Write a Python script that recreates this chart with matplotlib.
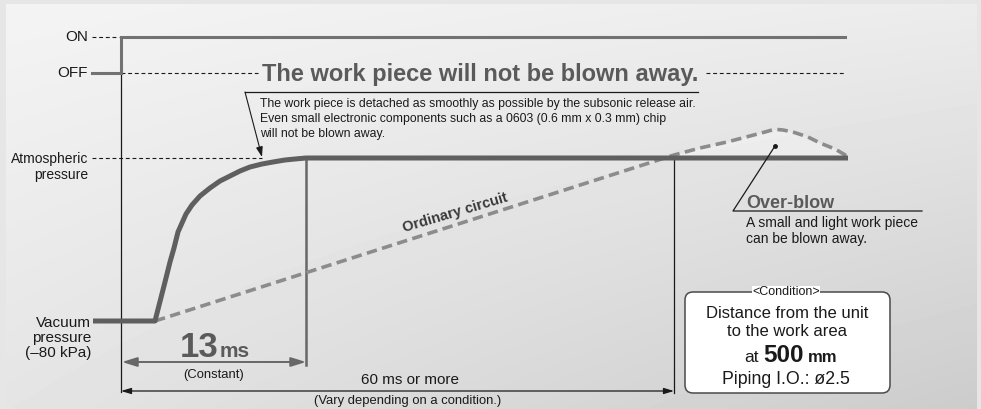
import numpy as np
import matplotlib
matplotlib.use("Agg")
import matplotlib.pyplot as plt
from matplotlib.patches import FancyBboxPatch, Rectangle

plt.rcParams['font.family'] = ['Liberation Sans', 'DejaVu Sans']

# ---- diagram data (schematic units: x = time position, y = level position) ----
levels = {"ON": 37, "OFF": 73, "ATM": 158, "VAC": 321}
t_start = 93
t_switch = 121
t_13ms = 306
t_60ms = 674
t_end = 848

signal_x = [92, 121, 121, 845]
signal_y = [73, 73, 37, 37]

release_x = [93, 155, 165, 170, 174, 178, 186, 192, 200, 210, 220, 230, 240, 250, 262, 273, 285, 295, 306, 848]
release_y = [321, 321, 282, 262, 248, 232, 214, 205, 196, 188, 181, 176, 171, 167, 164, 162, 160, 159, 158, 158]

ordinary_x = [155, 674, 700, 727, 750, 765, 772, 777, 783, 793, 808, 820, 835, 847]
ordinary_y = [321, 155, 148, 142, 136, 132, 130, 129.5, 130, 132, 137, 143, 149, 156]

label_on = "ON"
label_off = "OFF"
label_atm = "Atmospheric\npressure"
label_vac = "Vacuum\npressure\n(\u201380 kPa)"
title_text = "The work piece will not be blown away."
note_text = ("The work piece is detached as smoothly as possible by the subsonic release air.\n"
             "Even small electronic components such as a 0603 (0.6 mm x 0.3 mm) chip\n"
             "will not be blown away.")
ordinary_label = "Ordinary circuit"
overblow_title = "Over-blow"
overblow_text = "A small and light work piece\ncan be blown away."
cond_lines = ["Distance from the unit", "to the work area"]

W, H = 981, 409
fig = plt.figure(figsize=(W / 100, H / 100), dpi=100)
ax = fig.add_axes([0, 0, 1, 1])
ax.set_xlim(0, W)
ax.set_ylim(H, 0)
ax.axis("off")

# ---- background ----
fig.patch.set_facecolor("#e6e6e6")
ax.add_patch(Rectangle((0, 0), W, H, facecolor="#e6e6e6", edgecolor="none", zorder=0))
nx, ny = 200, 100
gx = np.linspace(0, 1, nx)[None, :]
gy = np.linspace(0, 1, ny)[:, None]
tl, tr, bl, br = 0.955, 0.925, 0.895, 0.80
grad = tl * (1 - gx) * (1 - gy) + tr * gx * (1 - gy) + bl * (1 - gx) * gy + br * gx * gy
ax.imshow(grad, cmap="gray", vmin=0, vmax=1, extent=(6, 977, H, 4), aspect="auto",
          interpolation="bilinear", zorder=0.5)
ax.set_xlim(0, W)
ax.set_ylim(H, 0)

dark = "#1a1a1a"
gray_line = "#676767"
title_gray = "#5a5a5a"
thin_dash = (0, (3.5, 2.5))

# ---- guide dashed lines ----
ax.plot([92, 119], [levels["ON"]] * 2, color=dark, lw=0.8, ls=thin_dash, zorder=2)
ax.plot([121, 258], [levels["OFF"]] * 2, color=dark, lw=0.8, ls=thin_dash, zorder=2)
ax.plot([706, 845], [levels["OFF"]] * 2, color=dark, lw=0.8, ls=thin_dash, zorder=2)
ax.plot([92, 262], [levels["ATM"]] * 2, color=dark, lw=0.8, ls=thin_dash, zorder=2)

# vertical reference lines
ax.plot([t_switch, t_switch], [levels["ON"], 392], color=dark, lw=0.9, zorder=2)
ax.plot([t_60ms, t_60ms], [levels["ATM"], 393], color=dark, lw=0.9, zorder=2)
ax.plot([t_13ms, t_13ms], [levels["ATM"], 365], color=gray_line, lw=1.8, zorder=2)

# ---- signal ----
ax.plot(signal_x, signal_y, color="#727272", lw=2.2, solid_joinstyle="miter", zorder=3)

# ---- over-blow shading ----
ox = np.array(ordinary_x)
oy = np.array(ordinary_y)
mask = ox >= 674
ax.fill_between(ox[mask], oy[mask], levels["ATM"], color="#ffffff", alpha=0.35, lw=0, zorder=2)

# ---- ordinary circuit (dashed) ----
ax.plot(ordinary_x, ordinary_y, color="#8c8c8c", lw=2.6, ls=(0, (2.9, 1.5)),
        solid_capstyle="butt", zorder=3)

# ---- release curve ----
ax.plot(release_x, release_y, color="#5f5f5f", lw=3.6, solid_joinstyle="round",
        solid_capstyle="butt", zorder=4)

# ---- left labels ----
ax.text(88, levels["ON"], label_on, ha="right", va="center", fontsize=11, color=dark)
ax.text(88, levels["OFF"], label_off, ha="right", va="center", fontsize=11, color=dark)
ax.text(88, 167, label_atm, ha="right", va="center", fontsize=10, color=dark, linespacing=1.15)
ax.text(91, 338, label_vac, ha="right", va="center", fontsize=11, color=dark, linespacing=1.12)

# ---- title and note ----
ax.text(262, levels["OFF"] + 1, title_text, ha="left", va="center", fontsize=17,
        fontweight="bold", color=title_gray)
ax.plot([245, 698], [92, 92], color=dark, lw=0.9, zorder=3)
ax.annotate("", xy=(262, 157), xytext=(245, 92),
            arrowprops=dict(arrowstyle="-|>,head_length=0.6,head_width=0.2", color=dark,
                            lw=0.8, shrinkA=0, shrinkB=0), zorder=5)
ax.text(260, 119, note_text, ha="left", va="center", fontsize=8.8, color=dark, linespacing=1.36)

# ---- ordinary circuit label ----
ax.text(455, 213, ordinary_label, ha="center", va="center", fontsize=10.5, fontweight="bold",
        color="#3a3a3a", rotation=16.5, rotation_mode="anchor")

# ---- over-blow ----
ax.plot([775], [146], "o", color=dark, ms=2.5, zorder=5)
ax.plot([775, 733, 922], [146, 211, 211], color=dark, lw=0.9, zorder=5)
ax.text(746, 208, overblow_title, ha="left", va="baseline", fontsize=13, fontweight="bold",
        color=title_gray)
ax.text(746, 231, overblow_text, ha="left", va="center", fontsize=10, color=dark, linespacing=1.15)

# ---- 13 ms dimension ----
ax.annotate("", xy=(t_13ms, 362), xytext=(t_switch + 1, 362),
            arrowprops=dict(arrowstyle="<|-|>,head_length=0.9,head_width=0.28", color=gray_line,
                            lw=1.4, shrinkA=0, shrinkB=0), zorder=4)
ax.text(218, 357, "13", ha="right", va="baseline", fontsize=25, fontweight="bold",
        color=title_gray)
ax.text(220, 357, "ms", ha="left", va="baseline", fontsize=15, fontweight="bold",
        color=title_gray)
ax.text(214, 375, "(Constant)", ha="center", va="center", fontsize=9.4, color=dark)

# ---- 60 ms dimension ----
ax.annotate("", xy=(t_60ms, 391), xytext=(t_switch, 391),
            arrowprops=dict(arrowstyle="<|-|>,head_length=0.6,head_width=0.18", color=dark,
                            lw=0.9, shrinkA=0, shrinkB=0), zorder=4)
ax.text(410, 380, "60 ms or more", ha="center", va="center", fontsize=11, color=dark)
ax.text(408, 401, "(Vary depending on a condition.)", ha="center", va="center", fontsize=9.4,
        color=dark)

# ---- condition box ----
box = FancyBboxPatch((685, 292), 205, 101, boxstyle="round,pad=0,rounding_size=8",
                     facecolor="white", edgecolor="#4a4a4a", lw=1.1, zorder=5)
ax.add_patch(box)
ax.text(786, 292, "<Condition>", ha="center", va="center", fontsize=9, color=dark, zorder=6,
        bbox=dict(facecolor="white", edgecolor="none", pad=0.2))
ax.text(787, 313, cond_lines[0], ha="center", va="center", fontsize=12, color=dark, zorder=6)
ax.text(787, 331, cond_lines[1], ha="center", va="center", fontsize=12, color=dark, zorder=6)
ax.text(759, 362, "at", ha="right", va="baseline", fontsize=12.5, color=dark, zorder=6)
ax.text(763, 362, "500", ha="left", va="baseline", fontsize=17.5, fontweight="bold", color=dark, zorder=6)
ax.text(808, 362, "mm", ha="left", va="baseline", fontsize=12, fontweight="bold", color=dark, zorder=6)
ax.text(786, 379, "Piping I.O.: \u00f82.5", ha="center", va="center", fontsize=12.8, color=dark, zorder=6)

fig.savefig("out.png", dpi=100)
